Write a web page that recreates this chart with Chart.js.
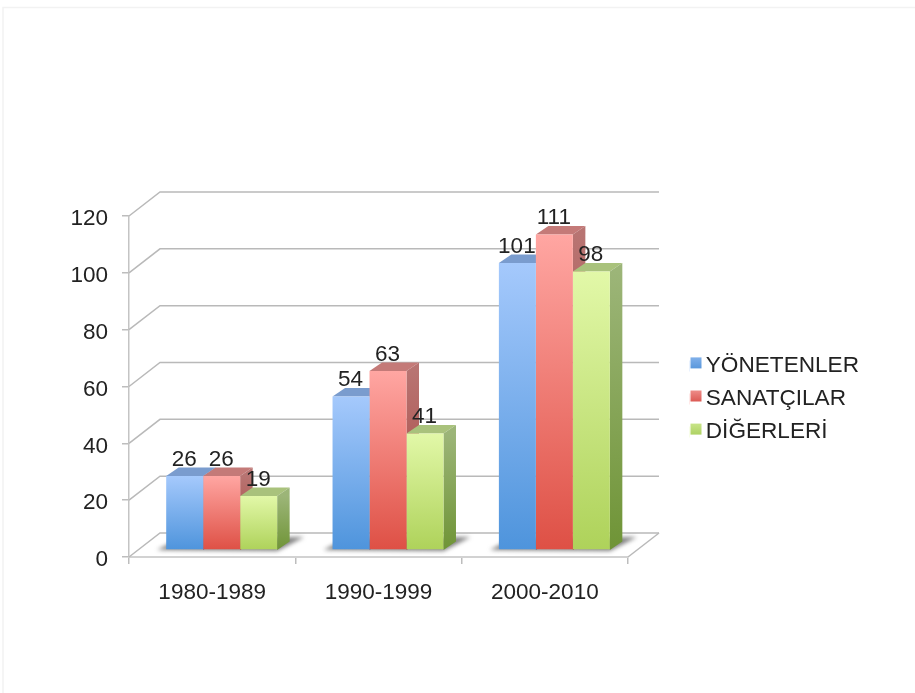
<!DOCTYPE html>
<html>
<head>
<meta charset="utf-8">
<title>Chart</title>
<script src="https://cdn.jsdelivr.net/npm/chart.js@4"></script>
<style>
  html, body { margin: 0; padding: 0; background: #fff; overflow: hidden; }
  canvas { display: block; filter: blur(0.5px); }
</style>
</head>
<body>
<canvas id="myChart" width="915" height="693"></canvas>
<script>
const decades = ['1980-1989', '1990-1999', '2000-2010']
const yonetenler = [26, 54, 101]
const sanatcilar = [26, 63, 111]
const digerleri = [19, 41, 98]

// colours of each series: front top, front bottom, top face, side top, side bottom, swatch top, swatch bottom
const blue = ['#a5c9fc', '#4e94dc', '#7a9cce', '#7796c6', '#3f78b4', '#80b0ea', '#5a98dc']
const red = ['#ffa6a2', '#de5045', '#c47a78', '#b87472', '#a84038', '#ee8c88', '#dc5a54']
const green = ['#e2f8a8', '#aed25a', '#a9c27c', '#9cb578', '#6f9436', '#c8e488', '#aed264']

const depthX = 31, depthY = -24      // depth of the back wall
const shiftX = 9.5, shiftY = -7      // bars stand inside the floor
const barX = 12.5, barY = -8.5       // depth of one bar

const colorsOf = (index) => [blue, red, green][index]

const frontFill = (colors) => (context) => {
    if (context.raw === undefined) return colors[0]
    const y = context.chart.scales.y
    const top = y.getPixelForValue(context.raw), bottom = y.getPixelForValue(0)
    // scales have no size yet on the first reset
    if (!isFinite(top) || !isFinite(bottom)) return colors[0]
    const grad = context.chart.ctx.createLinearGradient(0, top, 0, bottom)
    grad.addColorStop(0, colors[0])
    grad.addColorStop(1, colors[1])
    return grad
}

const poly = (ctx, pts, fill) => {
    ctx.beginPath()
    pts.forEach((p, i) => i ? ctx.lineTo(p[0], p[1]) : ctx.moveTo(p[0], p[1]))
    ctx.closePath()
    ctx.fillStyle = fill
    ctx.fill()
}

const scene = {
    id: 'scene',
    afterLayout(chart) {
        // legend sits apart from the plot, move it there
        const legend = chart.legend
        const dx = 679 - legend.left
        const dy = 399 - (legend.top + legend.bottom) / 2
        legend.left += dx; legend.right += dx
        legend.top += dy; legend.bottom += dy
    },
    beforeDraw(chart) {
        const ctx = chart.ctx
        ctx.save()
        ctx.fillStyle = '#fff'
        ctx.fillRect(0, 0, chart.width, chart.height)
        // faint slide border
        ctx.strokeStyle = '#f2f2f2'
        ctx.lineWidth = 1.5
        ctx.beginPath()
        ctx.moveTo(3, 693); ctx.lineTo(3, 7.5); ctx.lineTo(915, 7.5)
        ctx.stroke()
        ctx.restore()
    },
    beforeDatasetsDraw(chart) {
        const ctx = chart.ctx
        const x = chart.scales.x, y = chart.scales.y
        const left = x.left, right = x.right
        const floor = y.getPixelForValue(0)
        ctx.save()
        // back wall grid lines
        ctx.strokeStyle = '#b9b9b9'
        ctx.lineWidth = 1.5
        y.ticks.forEach((t) => {
            const py = y.getPixelForValue(t.value)
            ctx.beginPath()
            ctx.moveTo(left, py)
            ctx.lineTo(left + depthX, py + depthY)
            ctx.lineTo(right + depthX, py + depthY)
            ctx.stroke()
        })
        // floor right edge
        ctx.beginPath()
        ctx.moveTo(right + depthX, floor + depthY)
        ctx.lineTo(right, floor)
        ctx.stroke()
        // bar shadows on the floor
        const metaFirst = chart.getDatasetMeta(0), metaLast = chart.getDatasetMeta(2)
        ctx.filter = 'blur(2px)'
        decades.forEach((d, i) => {
            const a = metaFirst.data[i], b = metaLast.data[i]
            const l = a.x - a.width / 2 + shiftX, r = b.x + b.width / 2 + shiftX
            const base = floor + shiftY
            poly(ctx, [[l - 9, base], [l + 12, base - 11], [r + 27, base - 13], [r, base + 1]], 'rgba(85,85,85,0.75)')
        })
        ctx.filter = 'none'
        // top and side faces, left to right, the fronts come after from the library
        ctx.translate(shiftX, shiftY)
        chart.data.datasets.forEach((ds, index) => {
            const colors = colorsOf(index)
            chart.getDatasetMeta(index).data.forEach((bar) => {
                const l = bar.x - bar.width / 2, r = bar.x + bar.width / 2, t = bar.y
                poly(ctx, [[l, t], [l + barX, t + barY], [r + barX, t + barY], [r, t]], colors[2])
                const grad = ctx.createLinearGradient(0, t, 0, floor)
                grad.addColorStop(0, colors[3])
                grad.addColorStop(1, colors[4])
                poly(ctx, [[r, t], [r + barX, t + barY], [r + barX, floor + barY], [r, floor]], grad)
            })
        })
        ctx.restore()
    },
    beforeDatasetDraw(chart) {
        chart.ctx.save()
        chart.ctx.translate(shiftX, shiftY)
    },
    afterDatasetDraw(chart) {
        chart.ctx.restore()
    },
    afterDatasetsDraw(chart) {
        const ctx = chart.ctx
        ctx.save()
        ctx.fillStyle = '#222'
        ctx.font = '22.5px "Liberation Sans"'
        ctx.textAlign = 'center'
        ctx.textBaseline = 'middle'
        chart.data.datasets.forEach((ds, i) => {
            chart.getDatasetMeta(i).data.forEach((bar, j) => {
                ctx.fillText(ds.data[j], bar.x + shiftX - 0.5, bar.y + shiftY - 16.5)
            })
        })
        ctx.restore()
    },
    afterDraw(chart) {
        // legend swatches
        const ctx = chart.ctx
        chart.legend.legendHitBoxes.forEach((box, i) => {
            const colors = colorsOf(i)
            const top = box.top + (box.height - 11) / 2 - 3
            const grad = ctx.createLinearGradient(0, top, 0, top + 11)
            grad.addColorStop(0, colors[5])
            grad.addColorStop(1, colors[6])
            ctx.fillStyle = '#fff'
            ctx.fillRect(box.left, top, 11, 15)
            ctx.fillStyle = grad
            ctx.fillRect(box.left + 1, top, 11, 11)
        })
    }
}

const makeSet = (label, data, colors) => ({
    label: label,
    data: data,
    clip: false,
    borderWidth: 0,
    backgroundColor: frontFill(colors),
    categoryPercentage: 0.667,
    barPercentage: 1
})

Chart.defaults.font.family = '"Liberation Sans"'
Chart.defaults.font.size = 22.5
Chart.defaults.color = '#222'

new Chart(document.getElementById('myChart'), {
    type: 'bar',
    data: {
        labels: decades,
        datasets: [
            makeSet('YÖNETENLER', yonetenler, blue),
            makeSet('SANATÇILAR', sanatcilar, red),
            makeSet('DİĞERLERİ', digerleri, green)
        ]
    },
    options: {
        responsive: false,
        animation: false,
        layout: { padding: { left: 0, top: 216, right: 97, bottom: 76 } },
        plugins: {
            tooltip: { enabled: false },
            legend: {
                position: 'right',
                labels: { boxWidth: 5, boxHeight: 11, padding: 10.5, font: { size: 22.6 } }
            }
        },
        scales: {
            x: {
                afterFit: (scale) => { scale.height = 60 },
                border: { color: '#d2d2d2', width: 2 },
                grid: { drawOnChartArea: false, tickLength: 7, color: '#bdbdbd', lineWidth: 1.5 },
                ticks: { maxRotation: 0, padding: 15 }
            },
            y: {
                min: 0,
                max: 120,
                afterFit: (scale) => { scale.width = 129 },
                border: { color: '#c4c4c4', width: 1.5 },
                grid: { drawOnChartArea: false, tickLength: 7, color: '#bdbdbd', lineWidth: 1.5 },
                ticks: { stepSize: 20, padding: 14, labelOffset: 3 }
            }
        }
    },
    plugins: [scene]
})
</script>
</body>
</html>
